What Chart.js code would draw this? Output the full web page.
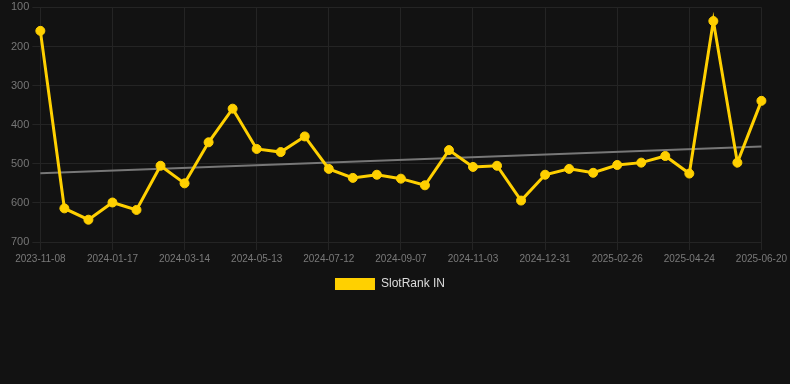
<!DOCTYPE html>
<html>
<head>
<meta charset="utf-8">
<script src="https://cdn.jsdelivr.net/npm/chart.js@4/dist/chart.umd.min.js"></script>
<style>
  html, body { margin: 0; padding: 0; background: #121212; }
  #wrap { width: 790px; height: 300px; position: relative; }
</style>
</head>
<body>
<div id="wrap"><canvas id="c"></canvas></div>
<script>
const categories = [
  "2023-11-08","2023-11-30","2023-12-25","2024-01-17","2024-02-04","2024-02-23",
  "2024-03-14","2024-04-03","2024-04-23","2024-05-13","2024-06-02","2024-06-22",
  "2024-07-12","2024-07-31","2024-08-19","2024-09-07","2024-09-26","2024-10-15",
  "2024-11-03","2024-11-22","2024-12-12","2024-12-31","2025-01-19","2025-02-07",
  "2025-02-26","2025-03-17","2025-04-05","2025-04-24","2025-05-13","2025-06-01",
  "2025-06-20"
];
const slotRankIN = [
  160, 614, 643, 599, 618, 505, 550, 445, 359, 462, 470, 430,
  513, 536, 528, 538, 555, 465, 508, 505, 594, 528, 513, 523,
  503, 497, 480, 525, 135, 497, 339
];
const trendStart = 524;
const trendEnd = 456;
const yTicks = [100, 200, 300, 400, 500, 600, 700];

const trend = categories.map((_, i) => i === 0 ? trendStart : (i === categories.length - 1 ? trendEnd : null));

const shiftLegend = {
  id: 'shiftLegend',
  afterLayout(chart) {
    if (chart.legend) { chart.legend.left -= 7; chart.legend.right -= 7; }
  }
};

new Chart(document.getElementById('c'), {
  type: 'line',
  plugins: [shiftLegend],
  data: {
    labels: categories,
    datasets: [
      {
        label: 'SlotRank IN',
        data: slotRankIN,
        borderColor: '#ffd000',
        backgroundColor: '#ffd000',
        borderWidth: 3,
        pointRadius: 4.5,
        pointHoverRadius: 4.5,
        pointBorderWidth: 1,
        pointBackgroundColor: '#ffd000',
        pointBorderColor: '#ffd000',
        tension: 0,
        order: 1
      },
      {
        label: 'trend',
        data: trend,
        borderColor: '#777777',
        borderWidth: 2,
        pointRadius: 0,
        spanGaps: true,
        fill: false,
        order: 2
      }
    ]
  },
  options: {
    responsive: true,
    maintainAspectRatio: false,
    animation: false,
    layout: { padding: { left: 8, right: 4, top: 0, bottom: 0 } },
    plugins: {
      legend: {
        position: 'bottom',
        labels: {
          color: '#dddddd',
          font: { family: 'Liberation Sans, Arial, sans-serif', size: 12 },
          boxWidth: 40,
          boxHeight: 12,
          filter: (item) => item.text === 'SlotRank IN',
          generateLabels: (chart) => {
            const items = Chart.defaults.plugins.legend.labels.generateLabels(chart);
            items.forEach(it => { it.lineWidth = 0; it.strokeStyle = 'transparent'; });
            return items;
          }
        }
      },
      tooltip: { enabled: false }
    },
    scales: {
      x: {
        grid: {
          color: (ctx) => (ctx.index % 3 === 0 ? '#242424' : 'transparent'),
          tickColor: (ctx) => (ctx.index % 3 === 0 ? '#242424' : 'transparent')
        },
        border: { color: '#242424' },
        ticks: {
          autoSkip: false,
          maxRotation: 0,
          color: '#7a7a7a',
          font: { family: 'Liberation Sans, Arial, sans-serif', size: 10 },
          callback: function (value, index) {
            return index % 3 === 0 ? categories[index] : '';
          }
        }
      },
      y: {
        reverse: true,
        min: yTicks[0],
        max: yTicks[yTicks.length - 1],
        grid: { color: '#242424' },
        border: { color: '#242424' },
        afterBuildTicks: (axis) => { axis.ticks = yTicks.map(v => ({ value: v })); },
        ticks: {
          color: '#767676',
          font: { family: 'Liberation Sans, Arial, sans-serif', size: 11, lineHeight: 0.8 }
        }
      }
    }
  }
});
</script>
</body>
</html>
